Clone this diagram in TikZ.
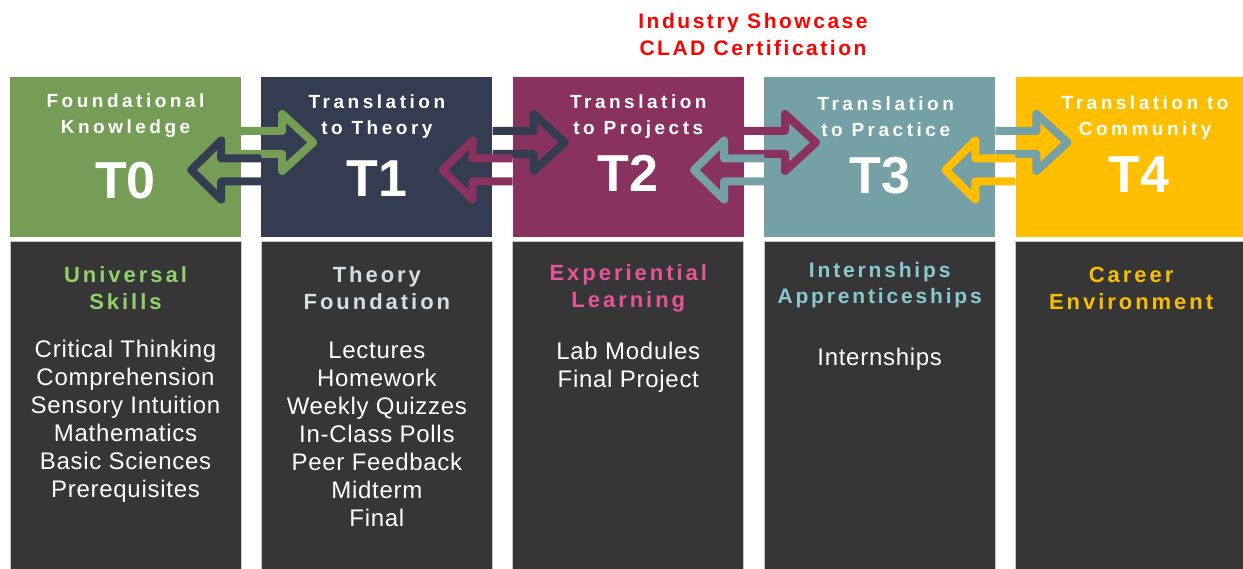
\documentclass[tikz,border=0pt]{standalone}
\usepackage{fontspec}
\setmainfont{Liberation Sans}
\newfontfamily\headfont[LetterSpace=18.5]{Liberation Sans}
\newfontfamily\subfont[LetterSpace=13.5]{Liberation Sans}
\newfontfamily\itemfont[LetterSpace=3]{Liberation Sans}
\newfontfamily\notefont[LetterSpace=12]{Liberation Sans}
\usepackage{xcolor}
\definecolor{tzero}{HTML}{769D55}
\definecolor{tone}{HTML}{333C51}
\definecolor{ttwo}{HTML}{89325F}
\definecolor{tthree}{HTML}{75A0A5}
\definecolor{tfour}{HTML}{FFBF00}
\definecolor{panel}{HTML}{363636}
\definecolor{uskill}{HTML}{8FD16A}
\definecolor{theory}{HTML}{D8DDE2}
\definecolor{exper}{HTML}{E8549A}
\definecolor{intern}{HTML}{88C8D2}
\definecolor{career}{HTML}{FABE00}
\usepackage{tikz}
\usetikzlibrary{positioning}

\begin{document}
\begin{tikzpicture}[
    x=1pt, y=1pt,
    node distance=4pt and 20pt,
    stage/.style={minimum width=231pt, minimum height=160pt, inner sep=0pt},
    panelbox/.style={fill=panel, draw=gray!45, line width=0.8pt, minimum width=231pt, minimum height=340pt, inner sep=0pt},
    title/.style={font=\headfont\bfseries\fontsize{19}{26}\selectfont, text=white, align=center, inner sep=0pt},
    tag/.style={font=\bfseries\fontsize{52}{52}\selectfont, text=white, inner sep=0pt},
    skill/.style={font=\subfont\bfseries\fontsize{22}{27}\selectfont, align=center, inner sep=0pt},
    items/.style={font=\itemfont\fontsize{24}{28}\selectfont, text=white, align=center, inner sep=0pt},
    flow/.style={line width=8pt, line join=round}
]
\useasboundingbox (0,0) rectangle (1243,-569);
\clip (0,0) rectangle (1243,-569);

% Stages T0 .. T4
\node[stage, fill=tzero] (t0) at (125.5,-157) {};
\node[stage, fill=tone, right=of t0] (t1) {};
\node[stage, fill=ttwo, right=of t1] (t2) {};
\node[stage, fill=tthree, right=of t2] (t3) {};
\node[stage, fill=tfour, right=of t3] (t4) {};

% Panels underneath
\node[panelbox, below=of t0] (b0) {};
\node[panelbox, below=of t1] (b1) {};
\node[panelbox, below=of t2] (b2) {};
\node[panelbox, below=of t3] (b3) {};
\node[panelbox, below=of t4] (b4) {};

% Stage titles
\node[title] (h0) at ([yshift=-39pt]t0.north) {Foundational\\Knowledge};
\node[title] (h1) at ([yshift=-40pt]t1.north) {Translation\\to Theory};
\node[title] (h2) at ([xshift=10pt, yshift=-40pt]t2.north) {Translation\\to Projects};
\node[title] (h3) at ([xshift=6pt, yshift=-40pt]t3.north) {Translation\\to Practice};
\node[title] (h4) at ([xshift=14pt, yshift=-41pt]t4.north) {Translation to\\Community};

\node[tag] (n0) at ([yshift=-104pt]t0.north) {T0};
\node[tag] (n1) at ([yshift=-102pt]t1.north) {T1};
\node[tag] (n2) at ([yshift=-97pt]t2.north) {T2};
\node[tag] (n3) at ([yshift=-99pt]t3.north) {T3};
\node[tag] (n4) at ([xshift=8pt, yshift=-98pt]t4.north) {T4};

% Two-way arrows between neighbouring stages
\draw[flow, draw=tzero] ([yshift=26pt]t0.east) -- ++(41,0) -- ++(0,17) -- ++(31,-28.5) -- ++(-31,-28.5) -- ++(0,17) -- ++(-41,0);
\draw[flow, draw=tone] ([yshift=-1.5pt]t1.west) -- ++(-40,0) -- ++(0,18) -- ++(-30,-29.5) -- ++(30,-29.5) -- ++(0,18) -- ++(40,0);
\draw[flow, draw=tone] ([yshift=26pt]t1.east) -- ++(41,0) -- ++(0,17) -- ++(31,-28.5) -- ++(-31,-28.5) -- ++(0,17) -- ++(-41,0);
\draw[flow, draw=ttwo] ([yshift=-1.5pt]t2.west) -- ++(-40,0) -- ++(0,18) -- ++(-30,-29.5) -- ++(30,-29.5) -- ++(0,18) -- ++(40,0);
\draw[flow, draw=ttwo] ([yshift=26pt]t2.east) -- ++(41,0) -- ++(0,17) -- ++(31,-28.5) -- ++(-31,-28.5) -- ++(0,17) -- ++(-41,0);
\draw[flow, draw=tthree] ([yshift=-1.5pt]t3.west) -- ++(-40,0) -- ++(0,18) -- ++(-30,-29.5) -- ++(30,-29.5) -- ++(0,18) -- ++(40,0);
\draw[flow, draw=tthree] ([yshift=26pt]t3.east) -- ++(41,0) -- ++(0,17) -- ++(31,-28.5) -- ++(-31,-28.5) -- ++(0,17) -- ++(-41,0);
\draw[flow, draw=tfour] ([yshift=-1.5pt]t4.west) -- ++(-40,0) -- ++(0,18) -- ++(-30,-29.5) -- ++(30,-29.5) -- ++(0,18) -- ++(40,0);

% Note above T2/T3
\node[font=\notefont\bfseries\fontsize{21}{27}\selectfont, text=red, align=center, inner sep=0pt] (note) at (753,-34.5) {Industry Showcase\\CLAD Certification};

% Panel contents
\node[skill, text=uskill] (s0) at ([yshift=-47pt]b0.north) {Universal\\Skills};
\node[skill, text=theory] (s1) at ([yshift=-47pt]b1.north) {Theory\\Foundation};
\node[skill, text=exper] (s2) at ([yshift=-47pt]b2.north) {Experiential\\Learning};
\node[skill, text=intern, font=\subfont\bfseries\fontsize{21}{26}\selectfont] (s3) at ([yshift=-44pt]b3.north) {Internships\\Apprenticeships};
\node[skill, text=career] (s4) at ([yshift=-47pt]b4.north) {Career\\Environment};

\node[items, below=99pt of b0.north] (l0) {Critical Thinking\\Comprehension\\Sensory Intuition\\Mathematics\\Basic Sciences\\Prerequisites};
\node[items, below=101pt of b1.north] (l1) {Lectures\\Homework\\Weekly Quizzes\\In-Class Polls\\Peer Feedback\\Midterm\\Final};
\node[items, below=101pt of b2.north] (l2) {Lab Modules\\Final Project};
\node[items, below=107pt of b3.north] (l3) {Internships};

\end{tikzpicture}
\end{document}
